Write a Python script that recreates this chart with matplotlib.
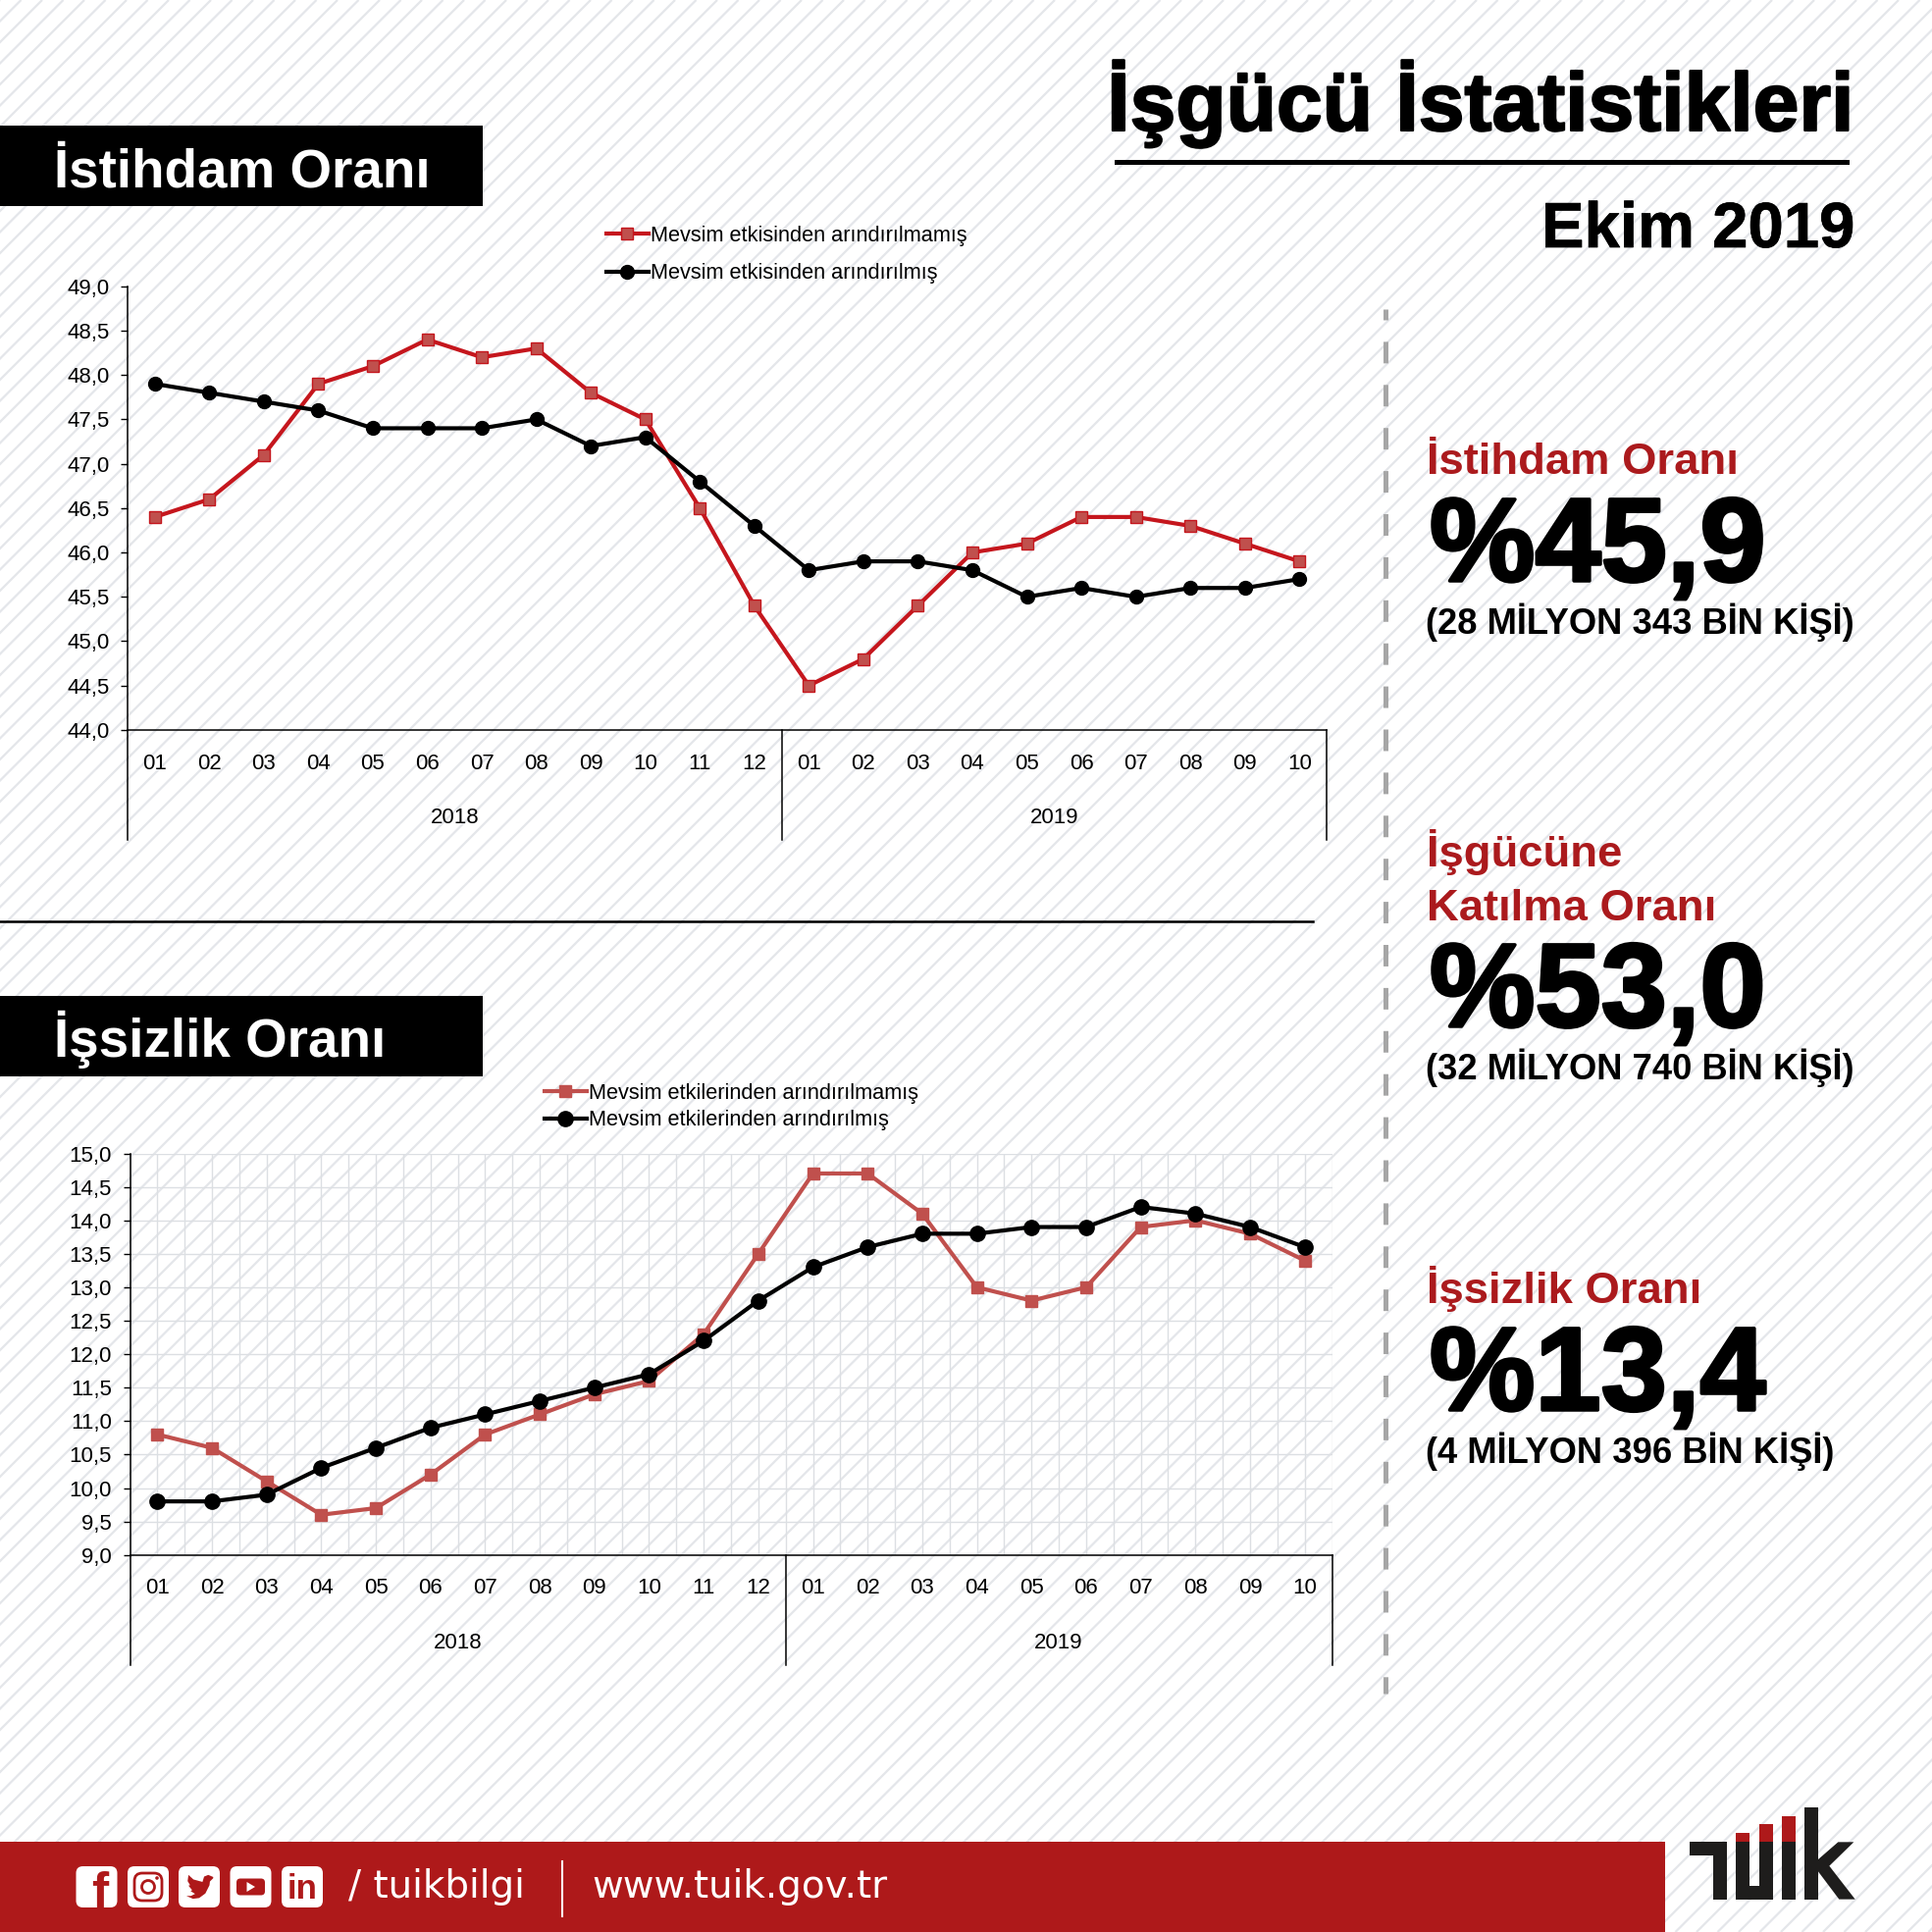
import numpy as np
import matplotlib
matplotlib.use('Agg')
from matplotlib import pyplot as plt
from matplotlib.collections import LineCollection
from matplotlib.patches import Rectangle, FancyBboxPatch, Polygon, Circle
import matplotlib.patheffects as pe

plt.rcParams['font.family'] = ['Liberation Sans', 'DejaVu Sans']

# chart values
months = ['01', '02', '03', '04', '05', '06', '07', '08', '09', '10', '11', '12',
          '01', '02', '03', '04', '05', '06', '07', '08', '09', '10']
years = ['2018', '2019']

emp_raw = [46.4, 46.6, 47.1, 47.9, 48.1, 48.4, 48.2, 48.3, 47.8, 47.5, 46.5, 45.4,
           44.5, 44.8, 45.4, 46.0, 46.1, 46.4, 46.4, 46.3, 46.1, 45.9]
emp_adj = [47.9, 47.8, 47.7, 47.6, 47.4, 47.4, 47.4, 47.5, 47.2, 47.3, 46.8, 46.3,
           45.8, 45.9, 45.9, 45.8, 45.5, 45.6, 45.5, 45.6, 45.6, 45.7]
unemp_raw = [10.8, 10.6, 10.1, 9.6, 9.7, 10.2, 10.8, 11.1, 11.4, 11.6, 12.3, 13.5,
             14.7, 14.7, 14.1, 13.0, 12.8, 13.0, 13.9, 14.0, 13.8, 13.4]
unemp_adj = [9.8, 9.8, 9.9, 10.3, 10.6, 10.9, 11.1, 11.3, 11.5, 11.7, 12.2, 12.8,
             13.3, 13.6, 13.8, 13.8, 13.9, 13.9, 14.2, 14.1, 13.9, 13.6]

emp_labels = ['Mevsim etkisinden arındırılmamış', 'Mevsim etkisinden arındırılmış']
unemp_labels = ['Mevsim etkilerinden arındırılmamış', 'Mevsim etkilerinden arındırılmış']

W = 1969
RED = '#ae191a'
TEXT_RED = '#ab1a1d'

fig = plt.figure(figsize=(W / 100, W / 100), dpi=100)

# background layer, in picture pixels
bg = fig.add_axes([0, 0, 1, 1], zorder=0)
bg.set_xlim(0, W)
bg.set_ylim(W, 0)
bg.axis('off')

# diagonal stripes, under everything else
stripes = [[(x, W), (x + W, 0)] for x in np.arange(-W, W, 21.5)]
bg.add_collection(LineCollection(stripes, colors='#e4e6ea', linewidths=1.6, zorder=0))


def label(x, y, s, size, color='black', ha='left', stroke=0, **kw):
    t = bg.text(x, y, s, fontsize=size, color=color, ha=ha, va='baseline',
                fontweight=kw.pop('fontweight', 'bold'), **kw)
    if stroke:
        t.set_path_effects([pe.withStroke(linewidth=stroke, foreground=color)])
    return t


# header
label(1890, 133, 'İşgücü İstatistikleri', 60.5, ha='right', stroke=1.5)
bg.add_patch(Rectangle((1136, 163), 749, 4.5, color='black', lw=0))
label(1890, 252, 'Ekim 2019', 47, ha='right', stroke=0.5)

# section banners
bg.add_patch(Rectangle((0, 128), 492, 82, color='black', lw=0))
label(55, 190, 'İstihdam Oranı', 39.4, color='white')
bg.add_patch(Rectangle((0, 1015), 492, 82, color='black', lw=0))
label(55, 1077, 'İşsizlik Oranı', 39.4, color='white')
bg.plot([0, 1338], [939, 939], color='black', lw=1.8)

# dashed divider
bg.plot([1411.5, 1411.5], [315, 1726], color='#a6a6a6', lw=3.6, linestyle=(2.2, (4.39, 4.39)))

# headline figures on the right
label(1454, 483, 'İstihdam Oranı', 32.7, color=TEXT_RED)
label(1457, 592, '%45,9', 87, stroke=2.5)
label(1453, 646, '(28 MİLYON 343 BİN KİŞİ)', 26.2)
label(1454, 883, 'İşgücüne', 32.7, color=TEXT_RED)
label(1454, 938, 'Katılma Oranı', 32.7, color=TEXT_RED)
label(1457, 1046, '%53,0', 87, stroke=2.5)
label(1453, 1100, '(32 MİLYON 740 BİN KİŞİ)', 26.2)
label(1454, 1328, 'İşsizlik Oranı', 32.7, color=TEXT_RED)
label(1457, 1437, '%13,4', 87, stroke=2.5)
label(1453, 1491, '(4 MİLYON 396 BİN KİŞİ)', 26.2)

# footer band
bg.add_patch(Rectangle((0, 1877), 1697, 92, color=RED, lw=0))
bg.plot([572.5, 572.5], [1897, 1953], color='white', lw=1.5)
label(355, 1934, '/ tuikbilgi', 28, color='white', fontweight='normal', family='DejaVu Sans')
label(603, 1934, 'www.tuik.gov.tr', 28, color='white', fontweight='normal', family='DejaVu Sans')

# social icons
icon_x = [77.5, 130, 182, 234.5, 287]
icon_y = 1902
icon_s = 42
for x in icon_x:
    bg.add_patch(FancyBboxPatch((x + 6, icon_y + 6), icon_s - 12, icon_s - 12,
                                boxstyle='round,pad=6,rounding_size=7', fc='white', ec='none'))
bg.text(icon_x[0] + 24, icon_y + 43, 'f', fontsize=37, fontweight='bold', color=RED, ha='center', va='baseline')
# instagram
cx = icon_x[1] + 21
cy = icon_y + 21
bg.add_patch(FancyBboxPatch((cx - 10, cy - 10), 20, 20, boxstyle='round,pad=4,rounding_size=8',
                            fc='none', ec=RED, lw=2))
bg.add_patch(Circle((cx, cy), 6.5, fc='none', ec=RED, lw=2))
bg.add_patch(Circle((cx + 9, cy - 9), 1.8, fc=RED, ec='none'))
# twitter
bird = [(.84, .26), (.72, .21), (.62, .25), (.58, .38), (.36, .32), (.24, .21), (.22, .36), (.28, .46),
        (.24, .47), (.33, .58), (.29, .60), (.40, .67), (.30, .72), (.19, .72), (.35, .79), (.50, .77),
        (.65, .66), (.75, .46), (.76, .37), (.84, .29)]
bg.add_patch(Polygon([(icon_x[2] + px * icon_s, icon_y + py * icon_s) for px, py in bird], fc=RED, ec='none'))
# youtube
cx = icon_x[3] + 21
bg.add_patch(FancyBboxPatch((cx - 13, cy - 7), 26, 14, boxstyle='round,pad=1.5,rounding_size=4', fc=RED, ec='none'))
bg.add_patch(Polygon([(cx - 4, cy - 5), (cx - 4, cy + 5), (cx + 4.5, cy)], fc='white', ec='none'))
# linkedin
bg.text(icon_x[4] + 21, icon_y + 33, 'in', fontsize=25, fontweight='bold', color=RED, ha='center', va='baseline')

# TUIK logo, crop offsets from the reference
lx, ly = 1680, 1820
DARK = '#1e1d1c'


def logo_rect(x0, x1, y0, y1, c):
    bg.add_patch(Rectangle((lx + x0 / 3, ly + y0 / 3), (x1 - x0) / 3, (y1 - y0) / 3, color=c, lw=0))


logo_rect(127, 239, 172, 214, DARK)
logo_rect(197, 239, 172, 347, DARK)
logo_rect(267, 309, 172, 347, DARK)
logo_rect(338, 380, 172, 347, DARK)
logo_rect(267, 380, 305, 347, DARK)
logo_rect(408, 450, 172, 347, DARK)
logo_rect(477, 519, 66, 347, DARK)
logo_rect(267, 309, 145, 172, RED)
logo_rect(338, 380, 118, 172, RED)
logo_rect(408, 450, 92, 172, RED)
kick = [(519, 225), (580, 172), (628, 172), (553, 245), (632, 347), (583, 347), (519, 262)]
bg.add_patch(Polygon([(lx + a / 3, ly + b / 3) for a, b in kick], fc=DARK, ec='none'))


def draw_chart(box, raw, adj, ylim, labels, leg_xy, line_red, circle, grid=False, ls=0):
    left, right, top, bottom = box
    ax = fig.add_axes([left / W, 1 - bottom / W, (right - left) / W, (bottom - top) / W], zorder=2)
    ax.patch.set_alpha(0)

    x = np.arange(len(months))
    ax.plot(x, raw, color=line_red, lw=3, marker='s', ms=8.5, mfc='#c0504d', mec=line_red, mew=1,
            label=labels[0], zorder=3)
    ax.plot(x, adj, color='black', lw=3, marker='o', ms=circle, mfc='black', mec='black',
            label=labels[1], zorder=4)

    ax.set_xlim(-0.5, len(months) - 0.5)
    ax.set_ylim(*ylim)
    yt = np.arange(ylim[0], ylim[1] + 0.25, 0.5)
    ax.set_yticks(yt)
    ax.set_yticklabels([f'{v:.1f}'.replace('.', ',') for v in yt], fontsize=16)
    ax.set_xticks(x)
    ax.set_xticklabels(months, fontsize=16)
    ax.tick_params(axis='x', length=0, pad=17)
    ax.tick_params(axis='y', length=5, width=1, pad=8.5)

    for s in ['top', 'right']:
        ax.spines[s].set_visible(False)
    for s in ['left', 'bottom']:
        ax.spines[s].set_linewidth(1.1)

    if grid:
        ax.set_xticks(np.arange(-0.5, len(months), 0.5), minor=True)
        ax.tick_params(axis='x', which='minor', length=0)
        ax.grid(True, which='minor', axis='x', color='#dcdfe3', lw=1)
        ax.grid(True, which='major', axis='x', color='#dcdfe3', lw=1)
        ax.grid(True, which='major', axis='y', color='#dcdfe3', lw=1)
        ax.set_axisbelow(True)

    # two level category axis
    drop = 112 / (bottom - top)
    tr = ax.get_xaxis_transform()
    for xs in [-0.5, 11.5, 21.5]:
        ax.plot([xs, xs], [0, -drop], color='black', lw=1.1, transform=tr, clip_on=False)
    ax.text(5.5, -90 / (bottom - top), years[0], transform=tr, ha='center', va='center', fontsize=16)
    ax.text(16.5, -90 / (bottom - top), years[1], transform=tr, ha='center', va='center', fontsize=16)

    ax.legend(loc='center left', bbox_to_anchor=(leg_xy[0] / W, 1 - leg_xy[1] / W), bbox_transform=fig.transFigure,
              frameon=False, fontsize=15.7, borderpad=0, borderaxespad=0, handlelength=1.95,
              handletextpad=0.1, labelspacing=ls, labelcolor='black')
    return ax


draw_chart((130, 1352, 291.8, 743.9), emp_raw, emp_adj, (44, 49), emp_labels, (618, 259.5),
           '#c5161d', 10, ls=0.8)
draw_chart((132.5, 1357.5, 1175.5, 1584.7), unemp_raw, unemp_adj, (9, 15), unemp_labels, (555, 1128),
           '#c0504d', 11, grid=True, ls=0.3)

fig.savefig('out.png', dpi=100, facecolor='white')
